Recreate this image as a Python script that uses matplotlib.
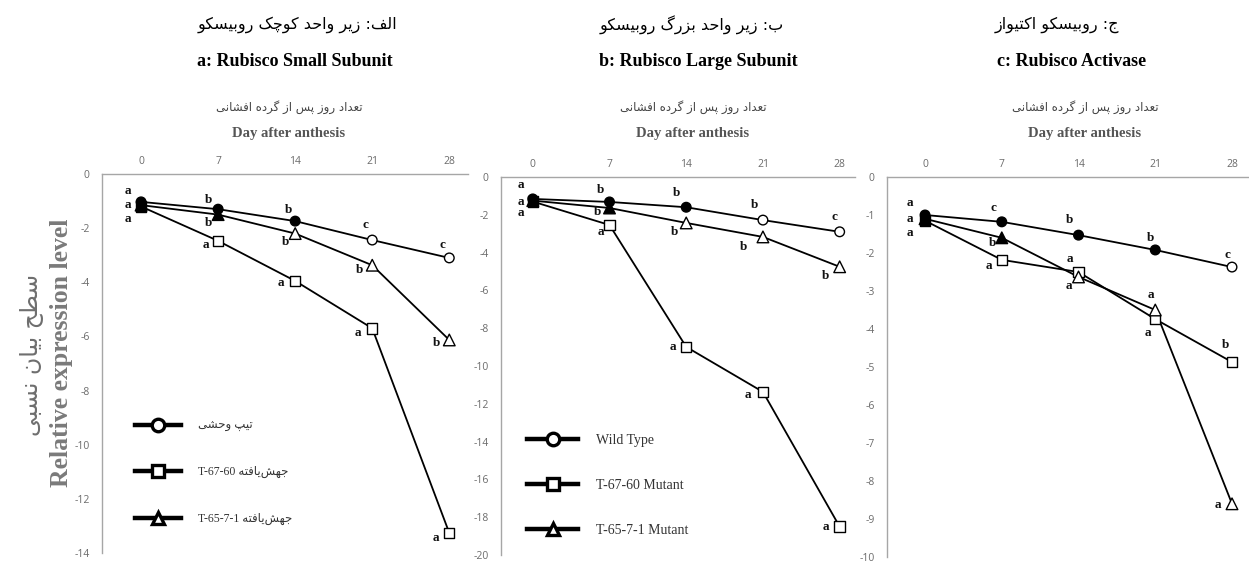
import matplotlib
matplotlib.use("Agg")
import matplotlib.pyplot as plt
from matplotlib.lines import Line2D

# ---------------- data ----------------
days = [0, 7, 14, 21, 28]
series_names = ["WT", "T6760", "T6571"]

a_wt = [-1.03, -1.30, -1.74, -2.44, -3.10]
a_t6760 = [-1.20, -2.47, -3.95, -5.70, -13.26]
a_t6571 = [-1.15, -1.50, -2.20, -3.37, -6.13]
a_letters_wt = ["a", "b", "b", "c", "c"]
a_letters_t6760 = ["a", "a", "a", "a", "a"]
a_letters_t6571 = ["a", "b", "b", "b", "b"]

b_wt = [-1.16, -1.32, -1.60, -2.28, -2.90]
b_t6760 = [-1.30, -2.54, -8.99, -11.37, -18.50]
b_t6571 = [-1.25, -1.64, -2.43, -3.17, -4.75]
b_letters_wt = ["a", "b", "b", "b", "c"]
b_letters_t6760 = ["a", "a", "a", "a", "a"]
b_letters_t6571 = ["a", "b", "b", "b", "b"]

c_wt = [-1.00, -1.18, -1.53, -1.92, -2.37]
c_t6760 = [-1.15, -2.18, -2.50, -3.74, -4.87]
c_t6571 = [-1.10, -1.60, -2.63, -3.50, -8.60]
c_letters_wt = ["a", "c", "b", "b", "c"]
c_letters_t6760 = ["a", "a", "a", "a", "b"]
c_letters_t6571 = ["a", "b", "a", "a", "a"]

a_ticks = [0, -2, -4, -6, -8, -10, -12, -14]
b_ticks = [0, -2, -4, -6, -8, -10, -12, -14, -16, -18, -20]
c_ticks = [0, -1, -2, -3, -4, -5, -6, -7, -8, -9, -10]

titles_fa = ["الف: زیر واحد کوچک روبیسکو", "ب: زیر واحد بزرگ روبیسکو", "ج: روبیسکو اکتیواز"]
titles_en = ["a: Rubisco Small Subunit", "b: Rubisco Large Subunit", "c: Rubisco Activase"]
xlabel_fa = "تعداد روز پس از گرده افشانی"
xlabel_en = "Day after anthesis"
ylabel_fa = "سطح بیان نسبی"
ylabel_en = "Relative expression level"
legend_fa_wt = "تیپ وحشی"
legend_fa_mut = "جهش\u200cیافته"
legend_codes = ["T-67-60", "T-65-7-1"]
legend_en = ["Wild Type", "T-67-60 Mutant", "T-65-7-1 Mutant"]

# ------------- simple Persian shaping (visual order) -------------
FORMS = {
    'ا': ('\uFE8D', '\uFE8E', None, None),
    'آ': ('\uFE81', '\uFE82', None, None),
    'ب': ('\uFE8F', '\uFE90', '\uFE91', '\uFE92'),
    'پ': ('\uFB56', '\uFB57', '\uFB58', '\uFB59'),
    'ت': ('\uFE95', '\uFE96', '\uFE97', '\uFE98'),
    'ث': ('\uFE99', '\uFE9A', '\uFE9B', '\uFE9C'),
    'ج': ('\uFE9D', '\uFE9E', '\uFE9F', '\uFEA0'),
    'چ': ('\uFB7A', '\uFB7B', '\uFB7C', '\uFB7D'),
    'ح': ('\uFEA1', '\uFEA2', '\uFEA3', '\uFEA4'),
    'خ': ('\uFEA5', '\uFEA6', '\uFEA7', '\uFEA8'),
    'د': ('\uFEA9', '\uFEAA', None, None),
    'ذ': ('\uFEAB', '\uFEAC', None, None),
    'ر': ('\uFEAD', '\uFEAE', None, None),
    'ز': ('\uFEAF', '\uFEB0', None, None),
    'ژ': ('\uFB8A', '\uFB8B', None, None),
    'س': ('\uFEB1', '\uFEB2', '\uFEB3', '\uFEB4'),
    'ش': ('\uFEB5', '\uFEB6', '\uFEB7', '\uFEB8'),
    'ص': ('\uFEB9', '\uFEBA', '\uFEBB', '\uFEBC'),
    'ض': ('\uFEBD', '\uFEBE', '\uFEBF', '\uFEC0'),
    'ط': ('\uFEC1', '\uFEC2', '\uFEC3', '\uFEC4'),
    'ظ': ('\uFEC5', '\uFEC6', '\uFEC7', '\uFEC8'),
    'ع': ('\uFEC9', '\uFECA', '\uFECB', '\uFECC'),
    'غ': ('\uFECD', '\uFECE', '\uFECF', '\uFED0'),
    'ف': ('\uFED1', '\uFED2', '\uFED3', '\uFED4'),
    'ق': ('\uFED5', '\uFED6', '\uFED7', '\uFED8'),
    'ک': ('\uFB8E', '\uFB8F', '\uFB90', '\uFB91'),
    'گ': ('\uFB92', '\uFB93', '\uFB94', '\uFB95'),
    'ل': ('\uFEDD', '\uFEDE', '\uFEDF', '\uFEE0'),
    'م': ('\uFEE1', '\uFEE2', '\uFEE3', '\uFEE4'),
    'ن': ('\uFEE5', '\uFEE6', '\uFEE7', '\uFEE8'),
    'و': ('\uFEED', '\uFEEE', None, None),
    'ه': ('\uFEE9', '\uFEEA', '\uFEEB', '\uFEEC'),
    'ی': ('\uFBFC', '\uFBFD', '\uFBFE', '\uFBFF'),
}


def fa(s):
    out = []
    for i, ch in enumerate(s):
        if ch not in FORMS:
            if ch != '\u200c':
                out.append(ch)
            continue
        prev = s[i - 1] if i > 0 else None
        nxt = s[i + 1] if i + 1 < len(s) else None
        cp = prev in FORMS and FORMS[prev][2] is not None if prev else False
        cn = (nxt in FORMS and FORMS[ch][2] is not None) if nxt else False
        iso, fin, ini, med = FORMS[ch]
        if cp and cn:
            out.append(med)
        elif cp:
            out.append(fin)
        elif cn:
            out.append(ini)
        else:
            out.append(iso)
    return ''.join(reversed(out))


# ---------------- styles ----------------
W, H = 1249, 562
fig = plt.figure(figsize=(W / 100, H / 100), dpi=100)


def axrect(l, r, t, b):
    return [l / W, 1 - b / H, (r - l) / W, (b - t) / H]


panels = [
    dict(rect=axrect(102, 468, 174, 553), xlim=(-3.55, 29.7), ylim=(-14, 0), ticks=a_ticks,
         data=[a_wt, a_t6760, a_t6571],
         letters=[a_letters_wt, a_letters_t6760, a_letters_t6571],
         fills=[[1, 1, 1, 0, 0], [1, 0, 0, 0, 0], [1, 1, 0, 0, 0]],
         offs=[[(-13, 11), (-10, 9), (-7, 11), (-7, 15), (-7, 13)],
               [(-13, -13), (-12, -4), (-14, -2), (-14, -5), (-13, -5)],
               [(-13, 0), (-10, -8), (-10, -8), (-13, -5), (-13, -3)]]),
    dict(rect=axrect(501, 855, 177, 555), xlim=(-2.9, 29.4), ylim=(-20, 0), ticks=b_ticks,
         data=[b_wt, b_t6760, b_t6571],
         letters=[b_letters_wt, b_letters_t6760, b_letters_t6571],
         fills=[[1, 1, 1, 0, 0], [1, 0, 0, 0, 0], [1, 1, 0, 0, 0]],
         offs=[[(-12, 14), (-9, 12), (-10, 14), (-8, 15), (-5, 15)],
               [(-12, -11), (-9, -7), (-13, 0), (-15, -3), (-14, 0)],
               [(-12, -1), (-12, -4), (-12, -9), (-19, -10), (-14, -9)]]),
    dict(rect=axrect(887, 1249, 177, 557), xlim=(-3.47, 29.55), ylim=(-10, 0), ticks=c_ticks,
         data=[c_wt, c_t6760, c_t6571],
         letters=[c_letters_wt, c_letters_t6760, c_letters_t6571],
         fills=[[1, 1, 1, 1, 0], [1, 0, 0, 0, 0], [1, 1, 0, 0, 0]],
         offs=[[(-15, 12), (-8, 14), (-9, 15), (-5, 12), (-5, 12)],
               [(-15, -12), (-13, -6), (-9, 13), (-7, -14), (-7, 17)],
               [(-15, 0), (-9, -5), (-10, -9), (-4, 15), (-14, -1)]]),
]

markers = ['o', 's', '^']
msizes = [48, 56, 70]
SPINE = '#a6a6a6'
TICKC = '#6b6b6b'
SERIF = 'Liberation Serif'

axes = []
for p in panels:
    ax = fig.add_axes(p['rect'])
    axes.append(ax)
    ax.set_xlim(*p['xlim'])
    ax.set_ylim(*p['ylim'])
    for s in ['right', 'bottom']:
        ax.spines[s].set_visible(False)
    for s in ['left', 'top']:
        ax.spines[s].set_color(SPINE)
        ax.spines[s].set_linewidth(1.0)
    ax.xaxis.tick_top()
    ax.set_xticks(days)
    ax.set_xticklabels([str(d) for d in days])
    ax.set_yticks(p['ticks'])
    ax.set_yticklabels([str(t) for t in p['ticks']])
    ax.tick_params(axis='both', length=0, labelsize=7.5, labelcolor=TICKC)
    ax.tick_params(axis='y', pad=9)
    ax.tick_params(axis='x', pad=5)
    for lab in ax.get_xticklabels() + ax.get_yticklabels():
        lab.set_fontfamily('Open Sans')
    for k, ys in enumerate(p['data']):
        ax.plot(days, ys, color='black', lw=1.3, zorder=2)
    for k, ys in enumerate(p['data']):
        fc = ['black' if f else 'white' for f in p['fills'][k]]
        ax.scatter(days, ys, s=msizes[k], marker=markers[k], facecolors=fc,
                   edgecolors='black', linewidths=1.0, zorder=3, clip_on=False)
        for j, (d, y) in enumerate(zip(days, ys)):
            dx, dy = p['offs'][k][j]
            ax.annotate(p['letters'][k][j], (d, y), xytext=(dx, dy),
                        textcoords='offset pixels', ha='center', va='center',
                        fontsize=9.5, fontweight='bold', fontfamily=SERIF,
                        color='#111111', zorder=4, annotation_clip=False)

# legends
def handles(mk):
    return [Line2D([], [], color='black', lw=3.2, marker=m, ms=9, mfc='white',
                   mec='black', mew=2.4) for m in mk]

la_labels = [fa(legend_fa_wt),
             legend_codes[0] + " " + fa(legend_fa_mut),
             legend_codes[1] + " " + fa(legend_fa_mut)]
leg_a = axes[0].legend(handles(markers), la_labels, loc='upper left',
                       bbox_to_anchor=((135 - 102) / 366, (553 - 420) / 379),
                       frameon=False, borderpad=0, borderaxespad=0,
                       handlelength=3.9, handletextpad=1.4, labelspacing=2.9,
                       prop=dict(family=[SERIF, 'DejaVu Sans'], size=8.5))
for t in leg_a.get_texts():
    t.set_color('#333333')

leg_b = axes[1].legend(handles(markers), legend_en, loc='upper left',
                       bbox_to_anchor=((527 - 501) / 354, (555 - 434) / 378),
                       frameon=False, borderpad=0, borderaxespad=0,
                       handlelength=3.7, handletextpad=1.3, labelspacing=2.3,
                       prop=dict(family=SERIF, size=10))
for t in leg_b.get_texts():
    t.set_color('#333333')

# titles
fa_x = [297, 692, 1057]
en_x = [295, 698, 1072]
sub_x = [289, 693, 1085]
for i in range(3):
    fig.text(fa_x[i] / W, 1 - 25 / H, fa(titles_fa[i]), ha='center', va='center',
             fontsize=11.5, family=['DejaVu Sans'], color='black')
    fig.text(en_x[i] / W, 1 - 62 / H, titles_en[i], ha='center', va='center',
             fontsize=13, fontweight='bold', family=SERIF, color='black')
    fig.text(sub_x[i] / W, 1 - 107 / H, fa(xlabel_fa), ha='center', va='center',
             fontsize=8.5, family=['DejaVu Sans'], color='#444444')
    fig.text(sub_x[i] / W, 1 - 133 / H, xlabel_en, ha='center', va='center',
             fontsize=10.5, fontweight='bold', family=SERIF, color='#555555')

fig.text(32 / W, 1 - 355 / H, fa(ylabel_fa), rotation=90, ha='center', va='center',
         fontsize=17, family=['DejaVu Sans'], color='#6e6e6e')
fig.text(62 / W, 1 - 353 / H, ylabel_en, rotation=90, ha='center', va='center',
         fontsize=18.5, fontweight='bold', family=SERIF, color='#7a7a7a')

fig.savefig('out.png', dpi=100, facecolor='white')
